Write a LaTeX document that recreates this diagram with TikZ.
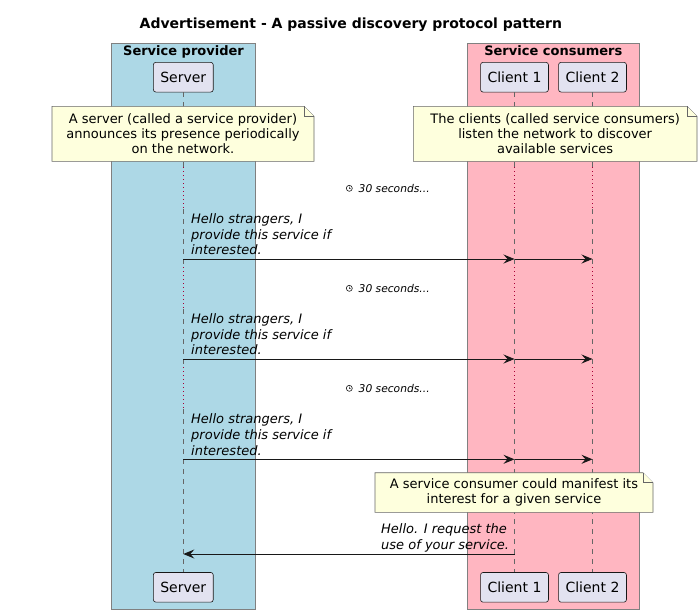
\documentclass[tikz,border=0pt]{standalone}
\usepackage{fontspec}
\setmainfont{DejaVu Sans}
\usetikzlibrary{arrows.meta}
\definecolor{provblue}{HTML}{ADD8E6}
\definecolor{conspink}{HTML}{FFB6C1}
\definecolor{partfill}{HTML}{E2E2F0}
\definecolor{notefill}{HTML}{FEFFDD}
\definecolor{ink}{HTML}{181818}
\definecolor{delayred}{HTML}{A80036}
\newcommand\seqnote[6]{%
  \filldraw[noteshape] (#2,#3) -- ({#4-10},#3) -- (#4,{#3+10}) -- (#4,#5) -- (#2,#5) -- cycle;
  \draw[noteshape] ({#4-10},#3) -- ({#4-10},{#3+10}) -- (#4,{#3+10});
  \node[notetext] (#1) at ({(#2+#4)/2},{(#3+#5)/2}) {#6};}
\newcommand\seqdelay[3]{%
  \node[clockface] (#1c) at (349.3,#2) {};
  \draw[ink,line width=0.5pt] (#1c.center) -- ++(0,-1.8) (#1c.center) -- ++(1.4,0.6);
  \node[delaytext] (#1) at (358.5,#2) {#3};}
\begin{document}
\begin{tikzpicture}[x=1pt,y=-1pt,
  groupbox/.style={draw=black!50,line width=0.8pt},
  grouplabel/.style={font=\fontsize{13}{15}\selectfont\bfseries,anchor=base,inner sep=0pt},
  participant/.style={draw=ink,fill=partfill,rounded corners=2.5pt,line width=0.6pt,inner xsep=7pt,inner ysep=0pt,minimum height=29.7pt,font=\fontsize{14}{16}\selectfont},
  lifedash/.style={draw=black!60,line width=0.5pt,dash pattern=on 5pt off 5pt},
  lifedot/.style={draw=delayred,line width=0.8pt,dash pattern=on 0.8pt off 3.2pt},
  noteshape/.style={draw=black!60,fill=notefill,line width=0.6pt},
  notetext/.style={align=center,inner sep=0pt,font=\fontsize{13}{14.7}\selectfont},
  msgtext/.style={align=left,inner sep=0pt,text depth=0pt,anchor=south west,font=\fontsize{13}{15.7}\selectfont\itshape},
  msg/.style={draw=ink,line width=0.9pt,-{Stealth[length=11pt,width=9pt,inset=4pt]}},
  delaytext/.style={anchor=west,inner sep=0pt,font=\fontsize{10.7}{12}\selectfont\itshape},
  clockface/.style={circle,draw=ink,line width=0.6pt,minimum size=6pt,inner sep=0pt},
]
\useasboundingbox[fill=white] (0,0) rectangle (698,614);

% title
\node[font=\fontsize{14}{16}\selectfont\bfseries,anchor=base,inner sep=0pt] (title) at (350.9,28.3) {Advertisement - A passive discovery protocol pattern};

% group boxes
\filldraw[groupbox,fill=provblue] (111.7,43.3) rectangle (255.3,609.3);
\filldraw[groupbox,fill=conspink] (467.3,43.3) rectangle (639.3,609.3);
\node[grouplabel] (gprov) at (183.5,55) {Service provider};
\node[grouplabel] (gcons) at (553.3,55) {Service consumers};

% participants
\node[participant] (srvT) at (183.3,77.2) {Server};
\node[participant] (claT) at (514.5,77.2) {Client 1};
\node[participant] (clbT) at (592.5,77.2) {Client 2};
\node[participant] (srvB) at (183.3,587.3) {Server};
\node[participant] (claB) at (514.5,587.3) {Client 1};
\node[participant] (clbB) at (592.5,587.3) {Client 2};

% lifelines
\foreach \p in {srv,cla,clb}{
  \draw[lifedash] (\p T.south) -- (\p T.south |- 0,167);
  \draw[lifedot] (\p T.south |- 0,167) -- (\p T.south |- 0,209);
  \draw[lifedash] (\p T.south |- 0,209) -- (\p T.south |- 0,267);
  \draw[lifedot] (\p T.south |- 0,267) -- (\p T.south |- 0,309);
  \draw[lifedash] (\p T.south |- 0,309) -- (\p T.south |- 0,367);
  \draw[lifedot] (\p T.south |- 0,367) -- (\p T.south |- 0,409);
  \draw[lifedash] (\p T.south |- 0,409) -- (\p B.north);
}

% notes
\seqnote{note1}{52}{106.3}{314}{161.3}{A server (called a service provider)\\announces its presence periodically\\on the network.}
\seqnote{note2}{413.3}{106.3}{697}{161.3}{The clients (called service consumers)\\listen the network to discover\\available services}

% delays and messages
\seqdelay{delay1}{188.3}{30 seconds...}
\node[msgtext] (m1) at (191,254.9) {Hello strangers, I\\provide this service if\\interested.};
\draw[msg] (srvT |- 0,259) -- (claT |- 0,259);
\draw[msg] (claT |- 0,259) -- (clbT |- 0,259);

\seqdelay{delay2}{288.3}{30 seconds...}
\node[msgtext] (m2) at (191,354.9) {Hello strangers, I\\provide this service if\\interested.};
\draw[msg] (srvT |- 0,359) -- (claT |- 0,359);
\draw[msg] (claT |- 0,359) -- (clbT |- 0,359);

\seqdelay{delay3}{388.3}{30 seconds...}
\node[msgtext] (m3) at (191,455.2) {Hello strangers, I\\provide this service if\\interested.};
\draw[msg] (srvT |- 0,459.3) -- (claT |- 0,459.3);
\draw[msg] (claT |- 0,459.3) -- (clbT |- 0,459.3);

\seqnote{note3}{375}{472.7}{653}{512.3}{A service consumer could manifest its\\interest for a given service}

\node[msgtext] (m4) at (381,549.6) {Hello. I request the\\use of your service.};
\draw[msg] (claT |- 0,554) -- (srvT |- 0,554);
\end{tikzpicture}
\end{document}
